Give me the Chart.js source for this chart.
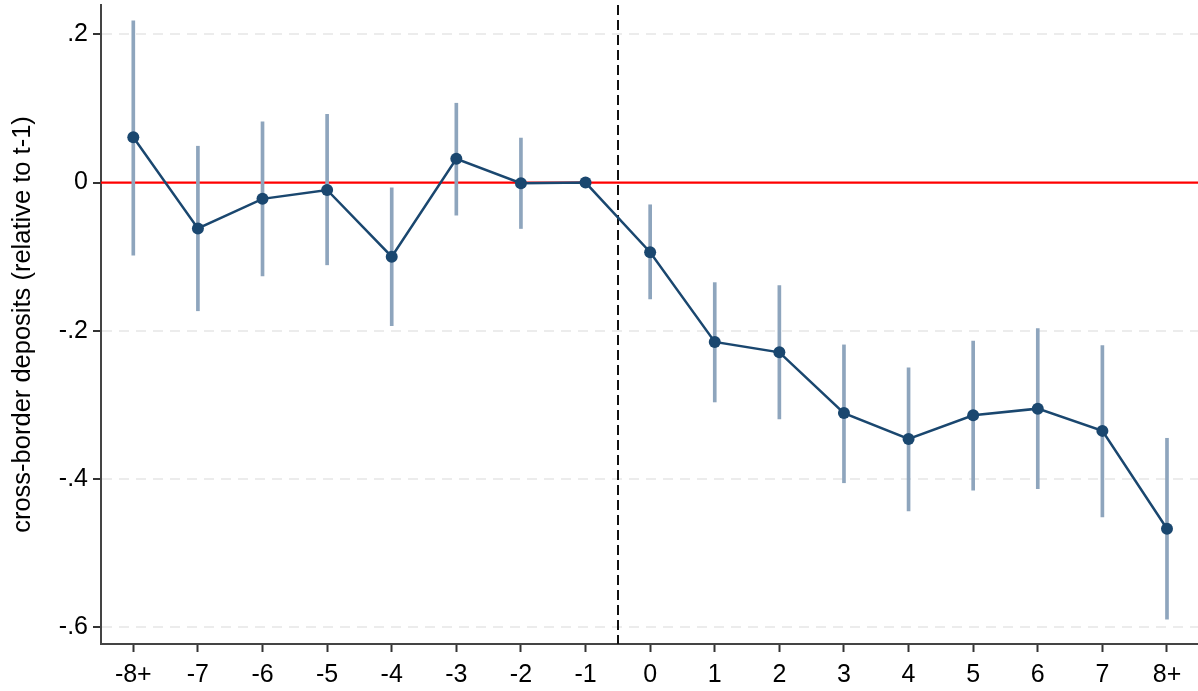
<!DOCTYPE html>
<html>
<head>
<meta charset="utf-8">
<script src="https://cdn.jsdelivr.net/npm/chart.js@4/dist/chart.umd.min.js"></script>
<style>
  html, body { margin: 0; padding: 0; background: #ffffff; }
  #wrap { position: relative; width: 1198px; height: 691px; }
</style>
</head>
<body>
<div id="wrap"><canvas id="c" width="1198" height="691"></canvas></div>
<script>
// Event-time categories (t relative to treatment)
const periods = ['-8+', '-7', '-6', '-5', '-4', '-3', '-2', '-1', '0', '1', '2', '3', '4', '5', '6', '7', '8+'];

// Point estimates (t-1 is the omitted reference period)
const estimates = [0.061, -0.062, -0.022, -0.010, -0.100, 0.032, -0.001, 0.000,
                   -0.094, -0.215, -0.229, -0.311, -0.346, -0.314, -0.305, -0.335, -0.467];

// 95% confidence interval bounds (null for the reference period)
const ciLower = [-0.098, -0.173, -0.126, -0.111, -0.193, -0.044, -0.062, null,
                 -0.157, -0.296, -0.319, -0.405, -0.443, -0.415, -0.413, -0.451, -0.589];
const ciUpper = [0.218, 0.049, 0.082, 0.092, -0.007, 0.107, 0.060, null,
                 -0.030, -0.135, -0.139, -0.219, -0.250, -0.214, -0.197, -0.220, -0.345];

// Y-axis ticks and labels
const yTicks = [-0.6, -0.4, -0.2, 0, 0.2];
const yTickLabels = ['-.6', '-.4', '-.2', '0', '.2'];

// Reference lines: zero effect and treatment onset (between -1 and 0)
const zeroLine = 0;
const eventLine = 7.5;

const navy = '#1a476f';
const ciColor = '#8ea5bd';
const FONT = "'Liberation Sans', Arial, sans-serif";

const ciData = periods.map((p, i) => ciLower[i] === null ? null : { x: i, y: [ciLower[i], ciUpper[i]] }).filter(d => d !== null);
const pointData = periods.map((p, i) => ({ x: i, y: estimates[i] }));

const refLines = {
  id: 'refLines',
  beforeDatasetsDraw(chart) {
    const { ctx, chartArea, scales: { x, y } } = chart;
    ctx.save();
    // red horizontal line at zero
    const y0 = y.getPixelForValue(zeroLine);
    ctx.strokeStyle = '#ff0000';
    ctx.lineWidth = 2.2;
    ctx.setLineDash([]);
    ctx.beginPath();
    ctx.moveTo(chartArea.left, y0);
    ctx.lineTo(chartArea.right, y0);
    ctx.stroke();
    // dashed vertical line at treatment onset
    const xe = Math.round(x.getPixelForValue(eventLine));
    ctx.strokeStyle = '#111111';
    ctx.lineWidth = 2;
    ctx.setLineDash([10, 5]);
    ctx.beginPath();
    ctx.moveTo(xe, chartArea.top);
    ctx.lineTo(xe, chartArea.bottom);
    ctx.stroke();
    ctx.restore();
  }
};

function noPad(scale) {
  scale.paddingTop = 0;
  scale.paddingBottom = 0;
  scale.paddingLeft = 0;
  scale.paddingRight = 0;
}

new Chart(document.getElementById('c'), {
  data: {
    datasets: [
      {
        type: 'bar',
        data: ciData,
        backgroundColor: ciColor,
        borderWidth: 0,
        barThickness: 3,
        grouped: false,
        order: 2
      },
      {
        type: 'line',
        data: pointData,
        borderColor: navy,
        backgroundColor: navy,
        borderWidth: 2.5,
        pointRadius: 6,
        pointHoverRadius: 6,
        pointBackgroundColor: navy,
        pointBorderWidth: 0,
        tension: 0,
        order: 1
      }
    ]
  },
  options: {
    responsive: false,
    animation: false,
    devicePixelRatio: 1,
    layout: { autoPadding: false, padding: { left: 0, right: 0, top: 5, bottom: 0 } },
    plugins: { legend: { display: false }, tooltip: { enabled: false } },
    scales: {
      x: {
        type: 'linear',
        min: -0.5,
        max: 16.48,
        offset: false,
        afterBuildTicks(scale) { scale.ticks = periods.map((p, i) => ({ value: i })); },
        afterFit(scale) { scale.height = 47; noPad(scale); },
        grid: { offset: false, drawOnChartArea: false, drawTicks: true, tickLength: 8, tickColor: '#333333', tickWidth: 2 },
        border: { display: true, color: '#444444', width: 2 },
        ticks: {
          autoSkip: false,
          maxRotation: 0,
          padding: 8,
          color: '#000000',
          font: { family: FONT, size: 25 },
          callback: (v) => periods[v] ?? ''
        }
      },
      y: {
        type: 'linear',
        min: -0.6225,
        max: 0.2395,
        afterBuildTicks(scale) { scale.ticks = yTicks.map(v => ({ value: v })); },
        afterFit(scale) { scale.width = 101; noPad(scale); },
        grid: {
          drawOnChartArea: true,
          drawTicks: true,
          tickLength: 8,
          tickColor: '#333333',
          tickWidth: 2,
          lineWidth: 2,
          color: (ctx) => (ctx.tick && ctx.tick.value === 0) ? 'rgba(0,0,0,0)' : '#ececec'
        },
        border: { display: true, color: '#444444', width: 2, dash: [10, 7] },
        ticks: {
          padding: 5,
          color: '#000000',
          font: { family: FONT, size: 25 },
          callback: (v) => {
            const k = yTicks.findIndex(t => Math.abs(t - v) < 1e-9);
            return k >= 0 ? yTickLabels[k] : '';
          }
        },
        title: {
          display: true,
          text: 'cross-border deposits (relative to t-1)',
          color: '#000000',
          font: { family: FONT, size: 25.5 },
          padding: { top: 8, bottom: 0 }
        }
      }
    }
  },
  plugins: [refLines]
});
</script>
</body>
</html>
